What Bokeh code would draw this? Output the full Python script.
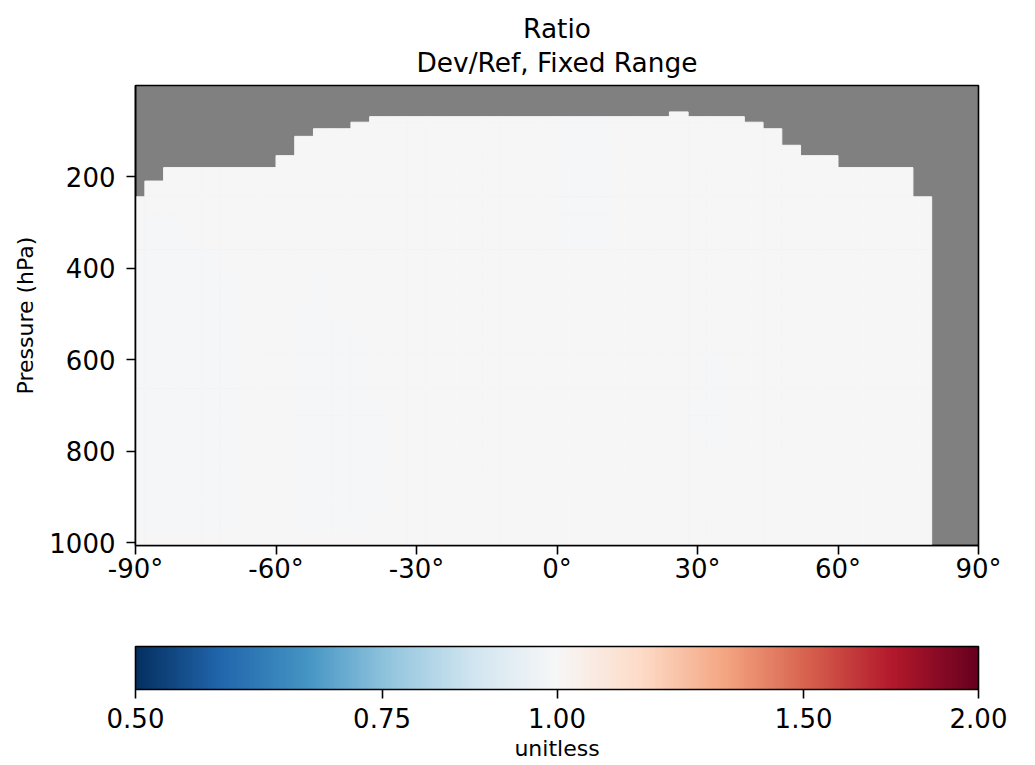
import numpy as np
from bokeh.plotting import figure
from bokeh.models import (Range1d, FixedTicker, PrintfTickFormatter, ColorBar,
                          LogColorMapper, Title, ColumnDataSource)
from bokeh.embed import file_html
from bokeh.resources import INLINE

# ---------------- data ----------------
# latitude cell edges (degrees), 4x5 grid with half-size polar cells
lat_edges = [-90, -88, -84, -80, -76, -72, -68, -64, -60, -56, -52, -48, -44, -40,
             -36, -32, -28, -24, -20, -16, -12, -8, -4, 0, 4, 8, 12, 16, 20, 24,
             28, 32, 36, 40, 44, 48, 52, 56, 60, 64, 68, 72, 76, 80, 84, 88, 90]

# pressure levels (hPa) used as cell boundaries (surface upward)
pressure_levels = [1005.65, 990.41, 975.12, 959.84, 944.55, 929.27, 913.98, 898.70,
                   883.42, 868.13, 852.85, 837.57, 819.74, 796.82, 771.36, 745.89,
                   720.43, 694.97, 663.15, 624.96, 586.78, 548.60, 510.42, 472.25,
                   434.08, 395.91, 357.74, 319.59, 281.46, 243.34, 208.89, 179.50,
                   153.32, 130.64, 111.17, 94.50, 80.23, 68.07, 57.71, 48.91]

# number of valid (unmasked) levels from the surface in each latitude column
valid_levels = [29, 30, 31, 31, 31, 31, 31, 31, 32, 34, 35, 35, 36,
                37, 37, 37, 37, 37, 37, 37, 37, 37, 37, 37, 37, 37, 37, 37, 37,
                38, 37, 37, 37, 36, 35, 33, 32, 32, 31, 31, 31, 31, 29, 0, 0, 0]

# ratio Dev/Ref: background value and small regions that differ slightly
base_ratio = 1.0
patch_lat_lo = [-88, -90, -80, -72, -56, -52, -48, -44, -40, 0, 32, 28]
patch_lat_hi = [-80, -88, -72, -68, -52, -48, -44, -40, -36, 12, 36, 32]
patch_p_bot = [975.12, 975.12, 975.12, 975.12, 975.12, 975.12, 975.12, 975.12,
               929.27, 357.74, 796.82, 745.89]
patch_p_top = [281.46, 357.74, 357.74, 395.91, 472.25, 395.91, 510.42, 548.60,
               694.97, 68.07, 586.78, 694.97]
patch_ratio = [0.99, 0.99, 0.99, 0.99, 0.99, 0.99, 0.99, 0.99, 0.99, 0.99, 0.99, 0.99]

cbar_ticks = [0.5, 0.75, 1.0, 1.5, 2.0]
lat_ticks = [-90, -60, -30, 0, 30, 60, 90]
p_ticks = [200, 400, 600, 800, 1000]

# ---------------- build cells ----------------
left, right, bottom, top, ratio = [], [], [], [], []
for c in range(len(lat_edges) - 1):
    for j in range(valid_levels[c]):
        lo, hi = lat_edges[c], lat_edges[c + 1]
        pb, pt = pressure_levels[j], pressure_levels[j + 1]
        v = base_ratio
        for k in range(len(patch_ratio)):
            if (lo >= patch_lat_lo[k] and hi <= patch_lat_hi[k]
                    and pb <= patch_p_bot[k] + 1e-6 and pt >= patch_p_top[k] - 1e-6):
                v = patch_ratio[k]
        left.append(lo); right.append(hi); bottom.append(pb); top.append(pt); ratio.append(v)

src = ColumnDataSource(dict(left=left, right=right, bottom=bottom, top=top, ratio=ratio))

# RdBu_r palette, 256 colours
anchors = ['#053061', '#2166ac', '#4393c3', '#92c5de', '#d1e5f0', '#f7f7f7',
           '#fddbc7', '#f4a582', '#d6604d', '#b2182b', '#67001f']
rgb = [tuple(int(a[i:i + 2], 16) for i in (1, 3, 5)) for a in anchors]
palette = []
for i in range(256):
    t = i / 255 * 10
    k = min(int(t), 9)
    f = t - k
    col = [round(rgb[k][m] + (rgb[k + 1][m] - rgb[k][m]) * f) for m in range(3)]
    palette.append('#%02x%02x%02x' % tuple(col))

mapper = LogColorMapper(palette=palette, low=cbar_ticks[0], high=cbar_ticks[-1])

FONT = "DejaVu Sans"
TICK_FS = "26px"

p = figure(frame_width=843, frame_height=460, title=None,
           x_range=Range1d(lat_edges[0], lat_edges[-1]),
           y_range=Range1d(pressure_levels[0], 0),
           output_backend="svg", toolbar_location=None,
           min_border_left=135, min_border_right=50, min_border_top=85,
           min_border_bottom=200, background_fill_color="#808080",
           border_fill_color="white", outline_line_color="black",
           outline_line_width=1.6)
p.grid.visible = False

p.quad(left="left", right="right", bottom="bottom", top="top", source=src,
       fill_color={'field': 'ratio', 'transform': mapper},
       line_color={'field': 'ratio', 'transform': mapper}, line_width=1)

for ax in (p.xaxis[0], p.yaxis[0]):
    ax.axis_line_color = "black"
    ax.axis_line_width = 1.6
    ax.major_tick_line_color = "black"
    ax.major_tick_line_width = 1.6
    ax.major_tick_in = 0
    ax.major_tick_out = 9
    ax.minor_tick_line_color = None
    ax.major_label_text_font = FONT
    ax.major_label_text_font_size = TICK_FS
    ax.major_label_text_color = "black"

p.xaxis.ticker = FixedTicker(ticks=lat_ticks)
p.xaxis.formatter = PrintfTickFormatter(format="%d°")
p.xaxis.major_label_standoff = -1

p.yaxis.ticker = FixedTicker(ticks=p_ticks)
p.yaxis.major_label_standoff = 11
p.yaxis.axis_label = "Pressure (hPa)"
p.yaxis.axis_label_text_font = FONT
p.yaxis.axis_label_text_font_size = "22px"
p.yaxis.axis_label_text_font_style = "normal"
p.yaxis.axis_label_text_color = "black"
p.yaxis.axis_label_standoff = 8

# empty spacer between the latitude axis and the colour bar
p.add_layout(Title(text=" ", text_font=FONT, text_font_size="22px", standoff=33), "below")

cb = ColorBar(color_mapper=mapper, orientation="horizontal", width=843, height=43,
              padding=0, margin=0, location=(0, 0),
              ticker=FixedTicker(ticks=cbar_ticks),
              formatter=PrintfTickFormatter(format="%.2f"),
              major_label_text_font=FONT, major_label_text_font_size=TICK_FS,
              major_label_text_color="black", label_standoff=9,
              major_tick_in=0, major_tick_out=9, major_tick_line_color="black",
              major_tick_line_width=1.6, minor_tick_line_color=None,
              bar_line_color="black", bar_line_width=1.6,
              border_line_color=None, background_fill_color=None)
p.add_layout(cb, "below")
p.add_layout(Title(text="unitless", align="center", text_font=FONT,
                   text_font_size="22px", text_font_style="normal",
                   text_color="black", standoff=6), "below")

p.add_layout(Title(text="Dev/Ref, Fixed Range", align="center", text_font=FONT,
                   text_font_size="26.4px", text_font_style="normal",
                   text_color="black", standoff=16), "above")
p.add_layout(Title(text="Ratio", align="center", text_font=FONT,
                   text_font_size="26.4px", text_font_style="normal",
                   text_color="black", standoff=-14), "above")

open("out.html", "w").write(file_html(p, INLINE))
